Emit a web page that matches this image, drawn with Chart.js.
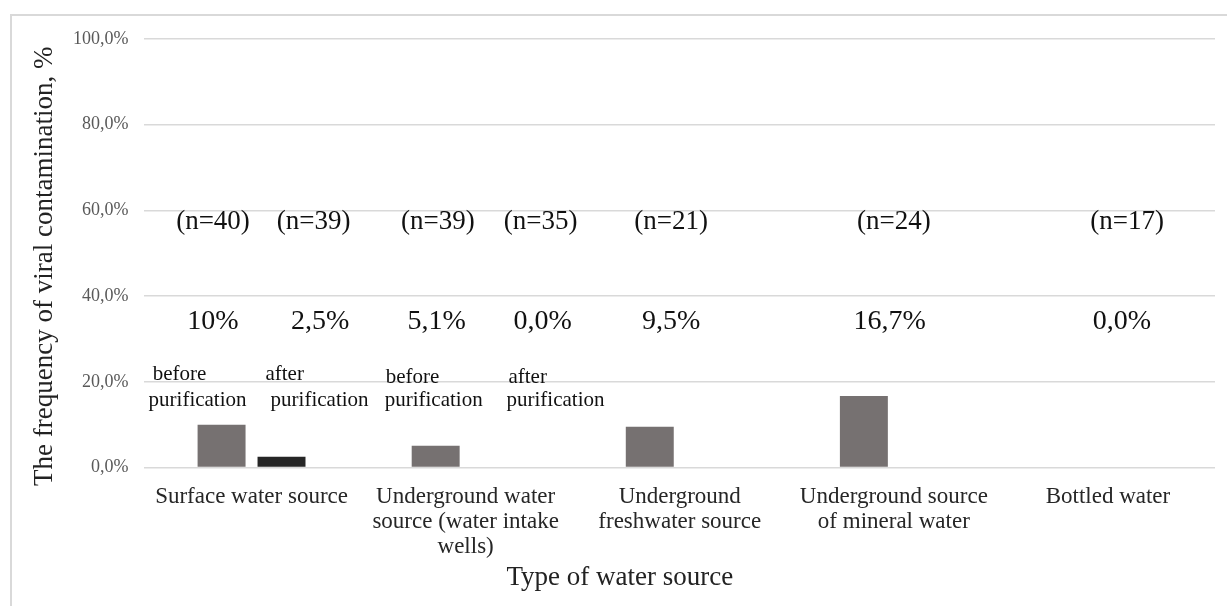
<!DOCTYPE html>
<html>
<head>
<meta charset="utf-8">
<script src="https://cdn.jsdelivr.net/npm/chart.js@4"></script>
<style>
  html, body { margin: 0; padding: 0; background: #fff; overflow: hidden; }
  #wrap { position: relative; width: 1227px; height: 606px; }
</style>
</head>
<body>
<div id="wrap"><canvas id="c"></canvas></div>
<script>
// ---- data ----
const categories = [
  'Surface water source',
  ['Underground water', 'source (water intake', 'wells)'],
  ['Underground', 'freshwater source'],
  ['Underground source', 'of mineral water'],
  'Bottled water'
];
const beforeValues = [10, 5.1, 9.5, 16.7, 0];
const afterValues = [2.5, 0, null, null, null];
const yTicks = [0, 20, 40, 60, 80, 100];

// annotation texts (category each belongs to)
const sampleLabels = ['(n=40)', '(n=39)', '(n=39)', '(n=35)', '(n=21)', '(n=24)', '(n=17)'];
const percentLabels = ['10%', '2,5%', '5,1%', '0,0%', '9,5%', '16,7%', '0,0%'];
const annCategory = [0, 0, 1, 1, 2, 3, 4];
const stageLabels = [['before', 'purification'], ['after', 'purification'], ['before', 'purification'], ['after', 'purification']];
const stageCategory = [0, 0, 1, 1];

// ---- layout (offsets in fractions of a category width; heights in axis units) ----
const sampleOffset = [-0.18, 0.29, -0.13, 0.35, -0.04, 0.0, 0.09];
const percentOffset = [-0.18, 0.32, -0.135, 0.36, -0.04, -0.02, 0.065];
const sampleLevel = 55.7, percentLevel = 32.4;
const stageLine1Offset = [-0.462, 0.065, -0.373, 0.2];
const stageLine2Offset = [-0.481, 0.089, -0.378, 0.191];
const stageLine1Level = [20.3, 20.3, 19.6, 19.6];
const stageLine2Level = 14.3;

const SERIF = '"Liberation Serif", "Times New Roman", serif';

const annotate = {
  id: 'annotate',
  beforeDraw(chart) {
    const ctx = chart.ctx;
    ctx.save();
    ctx.strokeStyle = '#d9d9d9';
    ctx.lineWidth = 2;
    ctx.beginPath();
    ctx.moveTo(11, chart.height + 5);
    ctx.lineTo(11, 15);
    ctx.lineTo(chart.width + 5, 15);
    ctx.stroke();
    ctx.restore();
  },
  afterDatasetsDraw(chart) {
    const ctx = chart.ctx;
    const xs = chart.scales.x, ys = chart.scales.y;
    const cw = xs.width / categories.length;
    const area = chart.chartArea;
    ctx.save();
    ctx.fillStyle = '#111';
    ctx.textBaseline = 'alphabetic';
    // sample sizes and percentages
    ctx.textAlign = 'center';
    ctx.font = '27px ' + SERIF;
    sampleLabels.forEach((t, i) => {
      ctx.fillText(t, xs.getPixelForValue(annCategory[i]) + sampleOffset[i] * cw, ys.getPixelForValue(sampleLevel));
    });
    ctx.font = '28px ' + SERIF;
    percentLabels.forEach((t, i) => {
      ctx.fillText(t, xs.getPixelForValue(annCategory[i]) + percentOffset[i] * cw, ys.getPixelForValue(percentLevel));
    });
    // before / after purification
    ctx.textAlign = 'left';
    ctx.font = '21px ' + SERIF;
    stageLabels.forEach((lines, i) => {
      const cx = xs.getPixelForValue(stageCategory[i]);
      ctx.fillText(lines[0], cx + stageLine1Offset[i] * cw, ys.getPixelForValue(stageLine1Level[i]));
      ctx.fillText(lines[1], cx + stageLine2Offset[i] * cw, ys.getPixelForValue(stageLine2Level));
    });
    // axis titles
    ctx.fillStyle = '#222';
    ctx.font = '27px ' + SERIF;
    ctx.textAlign = 'center';
    ctx.textBaseline = 'middle';
    ctx.fillText('Type of water source', area.left + area.width * 0.444, area.bottom + 110);
    ctx.translate(45, (area.top + area.bottom) / 2 + 13);
    ctx.rotate(-Math.PI / 2);
    ctx.fillText('The frequency of viral contamination, %', 0, 0);
    ctx.restore();
  }
};

new Chart(document.getElementById('c'), {
  type: 'bar',
  data: {
    labels: categories,
    datasets: [
      { label: 'before purification', data: beforeValues, backgroundColor: '#767171', categoryPercentage: 0.56, barPercentage: 0.8 },
      { label: 'after purification', data: afterValues, backgroundColor: '#262626', categoryPercentage: 0.56, barPercentage: 0.8 }
    ]
  },
  options: {
    responsive: true,
    maintainAspectRatio: false,
    animation: false,
    layout: { padding: { left: 57, right: 12, top: 39, bottom: 30 } },
    plugins: { legend: { display: false }, tooltip: { enabled: false } },
    scales: {
      x: {
        grid: { display: false, drawTicks: false },
        border: { display: false },
        ticks: {
          color: '#262626',
          font: { family: SERIF, size: 23, lineHeight: 1.08 },
          padding: 17,
          maxRotation: 0,
          autoSkip: false
        }
      },
      y: {
        min: 0, max: 100,
        afterBuildTicks(axis) { axis.ticks = yTicks.map(v => ({ value: v })); },
        grid: { color: '#d9d9d9', lineWidth: 1.5, drawTicks: false },
        border: { display: false },
        ticks: {
          color: '#595959',
          font: { family: SERIF, size: 18 },
          padding: 16,
          callback: v => v.toFixed(1).replace('.', ',') + '%'
        }
      }
    }
  },
  plugins: [annotate]
});
</script>
</body>
</html>
